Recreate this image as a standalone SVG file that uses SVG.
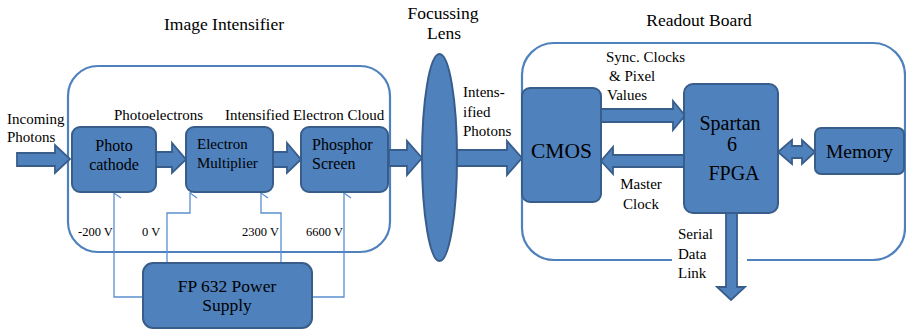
<svg xmlns="http://www.w3.org/2000/svg" width="906" height="330" viewBox="0 0 906 330" font-family="'Liberation Serif', 'Times New Roman', serif">
<style>
text{font-family:'Liberation Serif','Times New Roman',serif;fill:#000}
.box{fill:#4f81bd;stroke:#385d8a;stroke-width:2}
.cont{fill:none;stroke:#4f81bd;stroke-width:2.2}
.arr{fill:#4f81bd;stroke:#385d8a;stroke-width:1.8;stroke-linejoin:miter}
.pw{fill:none;stroke:#5a8fd0;stroke-width:1.3}
.t15{font-size:15px}
.t16{font-size:16px}
.t17{font-size:17.5px}
.mid{text-anchor:middle}
</style>
<defs>
<marker id="open" markerWidth="12" markerHeight="12" refX="6" refY="1" orient="auto-start-reverse" markerUnits="userSpaceOnUse" viewBox="0 0 12 12">
<path d="M1,8 L6,1 L11,8" fill="none" stroke="#5a8fd0" stroke-width="1.3"/>
</marker>
</defs>
<g id="titles">
<text class="t17 mid" x="224" y="30">Image Intensifier</text>
<text class="t17 mid" x="443" y="19">Focussing</text>
<text class="t17 mid" x="444" y="39">Lens</text>
<text class="t17 mid" x="699" y="26">Readout Board</text>
</g>
<g id="containers">
<rect id="intensifier" class="cont" x="68" y="66" width="322" height="186" rx="30"/>
<path id="readout" class="cont" d="M672,260 H554 A32,32 0 0 1 522,228 V75 A32,32 0 0 1 554,43 H873 A32,32 0 0 1 905,75 V228 A32,32 0 0 1 873,260 H747"/>
</g>
<g id="connectors">
<path class="arr" d="M17,153 H55 V145 L70,159 L55,173 V166 H17 Z"/>
<path class="arr" d="M156,152 H172 V143 L186,159.5 L172,173 V167 H156 Z"/>
<path class="arr" d="M273,152 H287 V143 L301,159.5 L287,173 V167 H273 Z"/>
<path class="arr" d="M389,150 H407 V141 L422,158 L407,175 V166 H389 Z"/>
<path class="arr" d="M457,150 H507 V141 L522,158 L507,175 V166 H457 Z"/>
<path class="arr" d="M601,109 H673 V101 L685,115.5 L673,130 V122 H601 Z"/>
<path class="arr" d="M684,155 H613 V147 L601,161 L613,174 V167 H684 Z"/>
<path class="arr" d="M778,152 L792,140 V146 H802 V140 L815,152 L802,164 V158 H792 V164 Z"/>
<path class="arr" d="M726,213 V287 H717 L731,300 L745,287 H737 V213 Z"/>
<path class="pw" d="M143,297 H114 V193" marker-end="url(#open)"/>
<path class="pw" d="M167,263 V213 H190 V193" marker-end="url(#open)"/>
<path class="pw" d="M281,263 V213 H261 V193" marker-end="url(#open)"/>
<path class="pw" d="M312,297 H344 V193" marker-end="url(#open)"/>
</g>
<g id="labels">
<text class="t15" x="7" y="124">Incoming</text>
<text class="t15" x="7" y="142">Photons</text>
<text class="t15" x="114" y="120">Photoelectrons</text>
<text class="t15" x="225" y="120">Intensified Electron Cloud</text>
<text class="t15" x="463" y="97">Intens-</text>
<text class="t15" x="463" y="117">ified</text>
<text class="t15" x="463" y="136">Photons</text>
<text class="t15" x="606" y="62">Sync. Clocks</text>
<text class="t15" x="609" y="81">&amp; Pixel</text>
<text class="t15" x="607" y="100">Values</text>
<text class="t15 mid" x="641" y="189">Master</text>
<text class="t15 mid" x="641" y="209">Clock</text>
<text class="t15" x="678" y="239">Serial</text>
<text class="t15" x="678" y="259">Data</text>
<text class="t15" x="678" y="278">Link</text>
<text x="78" y="236" font-size="12.5">-200 V</text>
<text x="142" y="236" font-size="12.5">0 V</text>
<text x="242" y="236" font-size="12.5">2300 V</text>
<text x="306" y="236" font-size="12.5">6600 V</text>
</g>
<g id="photocathode">
<rect class="box" x="72" y="127" width="84" height="65" rx="8"/>
<text class="t16 mid" x="114" y="151">Photo</text>
<text class="t16 mid" x="114" y="170">cathode</text>
</g>
<g id="multiplier">
<rect class="box" x="186" y="127" width="87" height="65" rx="8"/>
<text class="t15" x="197" y="149">Electron</text>
<text class="t15" x="197" y="168">Multiplier</text>
</g>
<g id="phosphor">
<rect class="box" x="301" y="127" width="87" height="65" rx="8"/>
<text class="t16" x="312" y="150">Phosphor</text>
<text class="t16" x="312" y="169">Screen</text>
</g>
<g id="power">
<rect class="box" x="143" y="263" width="169" height="65" rx="10"/>
<text class="mid" x="227" y="292" font-size="17.5">FP 632 Power</text>
<text class="mid" x="227" y="311" font-size="17.5">Supply</text>
</g>
<g id="lens">
<ellipse class="box" cx="439.5" cy="157.5" rx="17.5" ry="103.5"/>
</g>
<g id="cmos">
<rect class="box" x="522" y="88" width="79" height="114" rx="8"/>
<text class="mid" x="561.5" y="158" font-size="21.5">CMOS</text>
</g>
<g id="fpga">
<rect class="box" x="684" y="84" width="94" height="129" rx="9"/>
<text class="mid" x="730" y="130" font-size="20">Spartan</text>
<text class="mid" x="732" y="151" font-size="20">6</text>
<text class="mid" x="734" y="180" font-size="20">FPGA</text>
</g>
<g id="memory">
<rect class="box" x="815" y="128" width="89" height="46" rx="6"/>
<text class="mid" x="859.5" y="158" font-size="19.5">Memory</text>
</g>
</svg>
